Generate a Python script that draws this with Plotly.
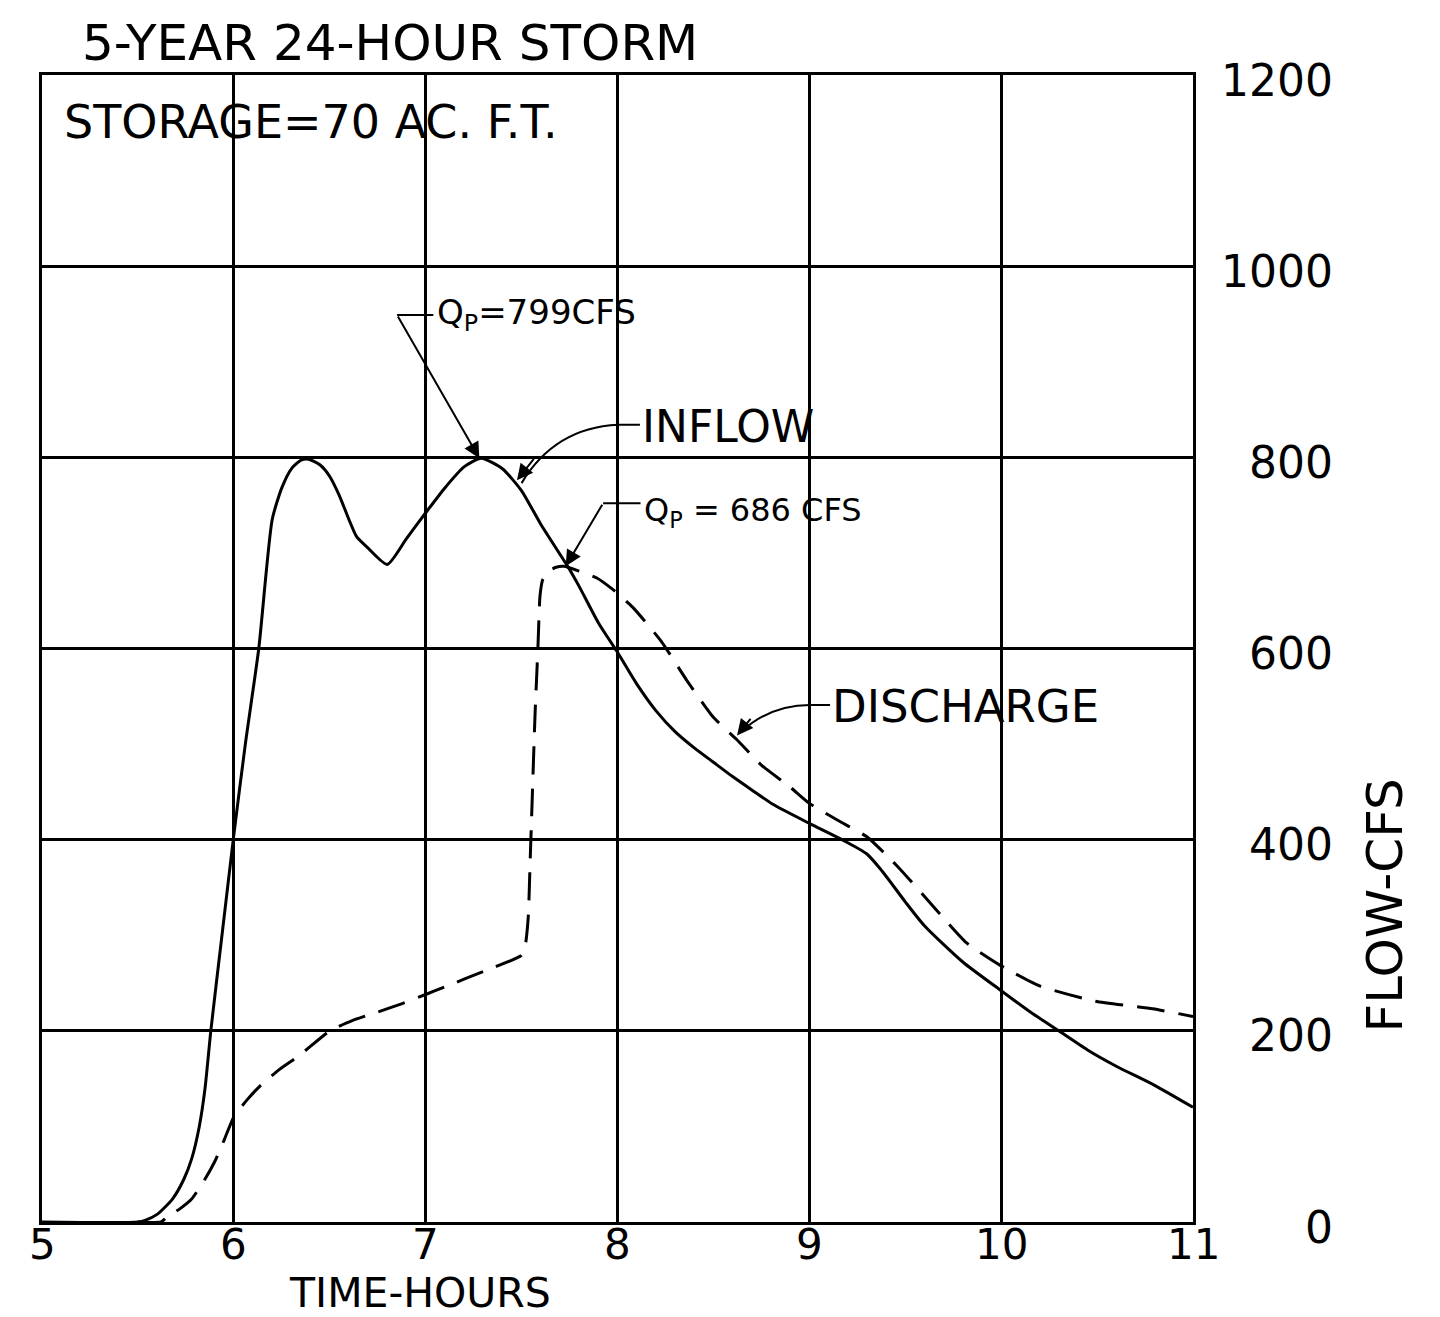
import plotly.graph_objects as go

# ---------------- data ----------------
time_inflow = [5.0, 5.5, 5.54, 5.6, 5.68, 5.74, 5.78, 5.82, 5.85, 5.88, 5.94, 6.0, 6.06, 6.13,
               6.2, 6.25, 6.3, 6.35, 6.39, 6.45, 6.5, 6.55, 6.6, 6.64, 6.7, 6.8, 6.9, 7.0,
               7.1, 7.2, 7.29, 7.4, 7.5, 7.6, 7.74, 7.8, 7.9, 8.0, 8.1, 8.2, 8.3, 8.4,
               8.5, 8.6, 8.7, 8.81, 9.0, 9.17, 9.3, 9.38, 9.5, 9.6, 9.8, 10.0, 10.15, 10.3,
               10.45, 10.6, 10.8, 11.0]
inflow_cfs = [0, 0, 2, 8, 24, 45, 66, 100, 140, 200, 303, 405, 500, 600,
              735, 768, 788, 797, 798, 792, 780, 760, 735, 717, 705, 688, 715, 742,
              768, 790, 799, 788, 765, 730, 686, 665, 627, 596, 563, 535, 513, 496,
              481, 466, 452, 437, 417, 400, 385, 367, 335, 310, 272, 242, 220, 200,
              180, 163, 143, 120]

time_discharge = [5.5, 5.62, 5.65, 5.72, 5.78, 5.85, 5.9, 5.95, 6.0, 6.07, 6.14, 6.24, 6.34,
                  6.5, 6.62, 6.74, 6.87, 7.0, 7.1, 7.2, 7.35, 7.5, 7.52, 7.535, 7.545,
                  7.555, 7.57, 7.585, 7.596, 7.61, 7.64, 7.68, 7.72, 7.8, 7.89, 7.98,
                  8.08, 8.23, 8.36, 8.5, 8.62, 8.75, 8.9, 9.0, 9.15, 9.3, 9.46, 9.66,
                  9.82, 10.0, 10.2, 10.49, 10.79, 11.0]
discharge_cfs = [0, 0, 5, 14, 24, 45, 63, 86, 110, 128, 143, 160, 174,
                 200, 211, 219, 228, 238, 246, 254, 266, 279, 290, 320, 380,
                 440, 530, 600, 655, 672, 681, 685, 686, 681, 674, 661,
                 643, 607, 567, 528, 505, 478, 455, 438, 420, 403, 372, 327,
                 292, 268, 247, 231, 223, 215]

x_ticks = [5, 6, 7, 8, 9, 10, 11]
x_tick_labels = ["5", "6", "7", "8", "9", "10", "11"]
y_ticks = [0, 200, 400, 600, 800, 1000, 1200]
y_tick_labels = ["0", "200", "400", "600", "800", "1000", "1200"]

title_text = "5-YEAR 24-HOUR STORM"
storage_text = "STORAGE=70 AC. F.T."
x_title = "TIME-HOURS"
y_title = "FLOW-CFS"

# ---------------- figure ----------------
FONT = "DejaVu Sans"
BLACK = "black"

fig = go.Figure()
fig.add_trace(go.Scatter(x=time_inflow, y=inflow_cfs, mode="lines", name="INFLOW",
                         line=dict(color=BLACK, width=3, shape="spline", smoothing=0.6)))
fig.add_trace(go.Scatter(x=time_discharge, y=discharge_cfs, mode="lines", name="DISCHARGE",
                         line=dict(color=BLACK, width=3, dash="28px,14px",
                                   shape="spline", smoothing=0.5)))

fig.update_layout(
    width=1440, height=1317,
    margin=dict(l=42, r=247, t=75, b=95),
    paper_bgcolor="white", plot_bgcolor="white",
    showlegend=False,
    font=dict(family=FONT, color=BLACK),
)
fig.update_xaxes(range=[5, 11], tickvals=x_ticks, showticklabels=False,
                 showgrid=True, gridcolor=BLACK, gridwidth=2.5,
                 showline=True, linecolor=BLACK, linewidth=3, mirror=True,
                 zeroline=False, ticks="")
fig.update_yaxes(range=[0, 1200], tickvals=y_ticks, side="right", showticklabels=False,
                 showgrid=True, gridcolor=BLACK, gridwidth=2.5,
                 showline=True, linecolor=BLACK, linewidth=3, mirror=True,
                 zeroline=False, ticks="")

ann = []
# y tick labels (right aligned)
for v, lab in zip(y_ticks, y_tick_labels):
    ann.append(dict(x=1.1234, xref="paper", y=v, yref="y", text=lab, showarrow=False,
                    xanchor="right", yanchor="middle", yshift=-5,
                    font=dict(family=FONT, size=44, color=BLACK)))
# x tick labels
for v, lab in zip(x_ticks, x_tick_labels):
    ann.append(dict(x=v, xref="x", y=0, yref="paper", text=lab, showarrow=False,
                    xanchor="center", yanchor="middle", yshift=-22, borderpad=0,
                    font=dict(family=FONT, size=42, color=BLACK)))

ann.append(dict(x=0.033, xref="paper", y=1.028, yref="paper", text=title_text,
                showarrow=False, xanchor="left", yanchor="middle",
                font=dict(family=FONT, size=50, color=BLACK)))
ann.append(dict(x=5.104, y=1151, xref="x", yref="y", text=storage_text, showarrow=False,
                xanchor="left", yanchor="middle", font=dict(family=FONT, size=46, color=BLACK)))
ann.append(dict(x=0.328, xref="paper", y=-0.0619, yref="paper", text=x_title, showarrow=False,
                xanchor="center", yanchor="middle", borderpad=0,
                font=dict(family=FONT, size=41, color=BLACK)))
ann.append(dict(x=1.1668, xref="paper", y=0.276, yref="paper", text=y_title, showarrow=False,
                textangle=-90, xanchor="center", yanchor="middle",
                font=dict(family=FONT, size=50, color=BLACK)))

# peak flows from data
qp_in = max(inflow_cfs)
t_in = time_inflow[inflow_cfs.index(qp_in)]
qp_out = max(discharge_cfs)
t_out = time_discharge[discharge_cfs.index(qp_out)]

# Qp inflow label
ann.append(dict(x=7.049, y=949, xref="x", yref="y", text=f"Q<sub>P</sub>={qp_in}CFS",
                showarrow=False, xanchor="left", yanchor="middle",
                font=dict(family=FONT, size=34, color=BLACK)))
ann.append(dict(x=t_in - 0.01, y=qp_in, xref="x", yref="y", ax=6.851, ay=949,
                axref="x", ayref="y", text="", showarrow=True, arrowhead=2,
                arrowsize=1.6, arrowwidth=2, arrowcolor=BLACK))
# Qp discharge label
ann.append(dict(x=8.127, y=743, xref="x", yref="y", text=f"Q<sub>P</sub> = {qp_out} CFS",
                showarrow=False, xanchor="left", yanchor="middle",
                font=dict(family=FONT, size=32, color=BLACK)))
ann.append(dict(x=t_out + 0.01, y=qp_out, xref="x", yref="y", ax=7.925, ay=752,
                axref="x", ayref="y", text="", showarrow=True, arrowhead=2,
                arrowsize=1.6, arrowwidth=2, arrowcolor=BLACK))
# INFLOW label
ann.append(dict(x=8.117, y=832, xref="x", yref="y", text="INFLOW", showarrow=False,
                xanchor="left", yanchor="middle", font=dict(family=FONT, size=44, color=BLACK)))
ann.append(dict(x=7.476, y=776, xref="x", yref="y", ax=7.57, ay=800,
                axref="x", ayref="y", text="", showarrow=True, arrowhead=2,
                arrowsize=1.6, arrowwidth=2, arrowcolor=BLACK))
# DISCHARGE label
ann.append(dict(x=9.108, y=539, xref="x", yref="y", text="DISCHARGE", showarrow=False,
                xanchor="left", yanchor="middle", font=dict(family=FONT, size=45, color=BLACK)))
ann.append(dict(x=8.623, y=509, xref="x", yref="y", ax=8.7, ay=528,
                axref="x", ayref="y", text="", showarrow=True, arrowhead=2,
                arrowsize=1.6, arrowwidth=2, arrowcolor=BLACK))
fig.update_layout(annotations=ann)

shapes = [
    dict(type="line", xref="x", yref="y", x0=6.851, y0=949, x1=7.04, y1=949,
         line=dict(color=BLACK, width=2)),
    dict(type="line", xref="x", yref="y", x0=7.925, y0=752, x1=8.12, y1=752,
         line=dict(color=BLACK, width=2)),
    dict(type="path", xref="x", yref="y",
         path="M 8.117,834 L 8.003,834 Q 7.674,831 7.50,773",
         line=dict(color=BLACK, width=2)),
    dict(type="path", xref="x", yref="y",
         path="M 9.108,541 L 9.003,541 Q 8.795,541 8.64,512",
         line=dict(color=BLACK, width=2)),
]
fig.update_layout(shapes=shapes)

fig.write_html("out.html")
